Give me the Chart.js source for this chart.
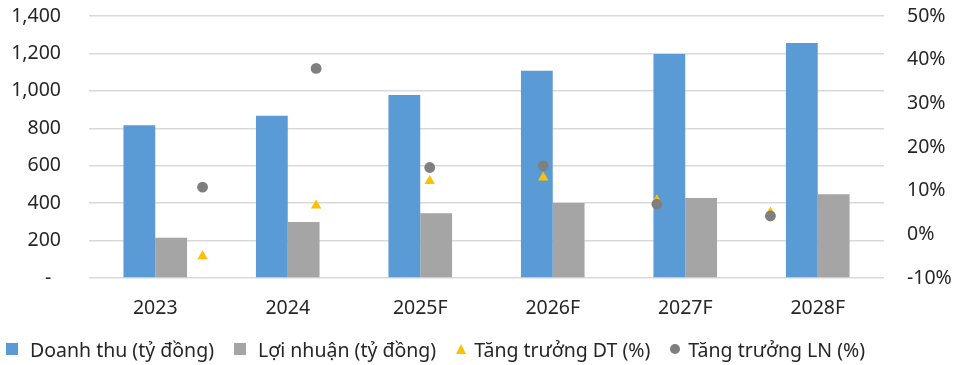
<!DOCTYPE html>
<html>
<head>
<meta charset="utf-8">
<script src="https://cdn.jsdelivr.net/npm/chart.js@4.4.1/dist/chart.umd.min.js"></script>
<style>
  html, body { margin: 0; padding: 0; background: #fff; }
  #wrap { position: relative; width: 964px; height: 365px; }
  #wrap canvas { position: absolute; left: 0; top: 0; }
  #legend {
    position: absolute; left: 6px; top: 337px; height: 24px;
    display: flex; align-items: center;
    font-family: 'Noto Sans', sans-serif; font-size: 19.5px; color: #262626;
    white-space: nowrap;
  }
  .item { display: flex; align-items: center; margin-right: 20px; }
  .mk { display: inline-block; margin-right: 12px; }
  .sq { width: 12px; height: 12px; }
  .tri { width: 0; height: 0; border-left: 5.5px solid transparent; border-right: 5.5px solid transparent; border-bottom: 10px solid; margin-right: 8px; }
  .dot { width: 10px; height: 10px; border-radius: 50%; margin-right: 8px; }
</style>
</head>
<body>
<div id="wrap">
  <canvas id="bars" width="964" height="365"></canvas>
  <canvas id="points" width="964" height="365"></canvas>
  <div id="legend"></div>
</div>
<script>
// Données
const years = ['2023', '2024', '2025F', '2026F', '2027F', '2028F'];
const revenue = [816, 867, 978, 1108, 1197, 1256];      // Doanh thu (tỷ đồng)
const profit = [215, 299, 346, 401, 427, 447];          // Lợi nhuận (tỷ đồng)
const growthDT = [-5.0, 6.6, 12.2, 13.0, 7.8, 5.0];     // Tăng trưởng DT (%)
const growthLN = [10.8, 38.0, 15.3, 15.7, 6.9, 4.2];    // Tăng trưởng LN (%)
const leftTicks = [0, 200, 400, 600, 800, 1000, 1200, 1400];
const rightTicks = [-10, 0, 10, 20, 30, 40, 50];

const FONT = "'Noto Sans', sans-serif";
const TEXT = '#262626';
const BLUE = '#5B9BD5', GREY = '#A5A5A5', GOLD = '#FFC000', DARK = '#7F7F7F';

// Zone de tracé commune aux deux graphiques superposés
const AREA = { left: 89, right: 80, top: 16, bottom: 87 };

// Graphique 1 : barres et axes
const barChart = new Chart(document.getElementById('bars'), {
    type: 'bar',
    data: {
        labels: years,
        datasets: [
            {
                label: 'Doanh thu (tỷ đồng)',
                data: revenue,
                backgroundColor: BLUE,
                categoryPercentage: 0.48,
                barPercentage: 1.0
            },
            {
                label: 'Lợi nhuận (tỷ đồng)',
                data: profit,
                backgroundColor: GREY,
                categoryPercentage: 0.48,
                barPercentage: 1.0
            }
        ]
    },
    options: {
        responsive: false,
        animation: false,
        layout: { padding: { top: AREA.top, left: 0, right: 0, bottom: 44 } },
        plugins: {
            legend: { display: false },
            tooltip: { enabled: false }
        },
        scales: {
            x: {
                type: 'category',
                afterFit: axis => { axis.height = 43; },
                grid: { display: false, drawTicks: false },
                border: { display: false },
                ticks: { color: TEXT, font: { family: FONT, size: 19.5 }, padding: 19, maxRotation: 0 }
            },
            y: {
                position: 'left',
                min: 0,
                max: 1400,
                afterBuildTicks: axis => { axis.ticks = leftTicks.map(v => ({ value: v })); },
                afterFit: axis => { axis.width = AREA.left; },
                // marque de graduation invisible pour décaler les libellés sans ajouter de marge en haut
                grid: { color: '#D9D9D9', lineWidth: 1.5, drawTicks: true, tickLength: 28, tickColor: 'rgba(0,0,0,0)' },
                border: { display: false },
                ticks: {
                    color: TEXT,
                    padding: 0,
                    font: { family: FONT, size: 19.5 },
                    callback: v => v === 0 ? '-\u2002' : v.toLocaleString('en-US')
                }
            },
            y2: {
                position: 'right',
                min: -10,
                max: 50,
                afterBuildTicks: axis => { axis.ticks = rightTicks.map(v => ({ value: v })); },
                afterFit: axis => { axis.width = AREA.right; },
                grid: { drawOnChartArea: false, drawTicks: true, tickLength: 23, color: 'rgba(0,0,0,0)', tickColor: 'rgba(0,0,0,0)' },
                border: { display: false },
                ticks: {
                    color: TEXT,
                    padding: 0,
                    font: { family: FONT, size: 19.5 },
                    callback: v => v + '%'
                }
            }
        }
    }
});

// Graphique 2 (superposé) : taux de croissance, sur un axe secondaire à 7 intervalles comme dans Excel
const toPoints = arr => arr.map((v, i) => ({ x: i + 1, y: v }));

const pointChart = new Chart(document.getElementById('points'), {
    type: 'scatter',
    data: {
        datasets: [
            {
                label: 'Tăng trưởng DT (%)',
                data: toPoints(growthDT),
                pointStyle: 'triangle',
                pointRadius: 6,
                borderWidth: 0,
                backgroundColor: GOLD,
                borderColor: GOLD,
                order: 1
            },
            {
                label: 'Tăng trưởng LN (%)',
                data: toPoints(growthLN),
                pointStyle: 'circle',
                pointRadius: 5.4,
                borderWidth: 0,
                backgroundColor: DARK,
                borderColor: DARK,
                order: 0
            }
        ]
    },
    options: {
        responsive: false,
        animation: false,
        layout: { padding: AREA },
        plugins: {
            legend: { display: false },
            tooltip: { enabled: false }
        },
        scales: {
            x: { type: 'linear', display: false, min: 0, max: 7 },
            y: { type: 'linear', display: false, min: -10, max: 50 }
        }
    }
});

// Légende en HTML, construite à partir des jeux de données
const legendSets = [...barChart.data.datasets, ...pointChart.data.datasets];
const markerClass = ['sq', 'sq', 'tri', 'dot'];
const legend = document.getElementById('legend');
legendSets.forEach((ds, i) => {
    const item = document.createElement('span');
    item.className = 'item';
    const mk = document.createElement('span');
    mk.className = 'mk ' + markerClass[i];
    if (markerClass[i] === 'tri') mk.style.borderBottomColor = ds.backgroundColor;
    else mk.style.background = ds.backgroundColor;
    const txt = document.createElement('span');
    txt.textContent = ds.label;
    item.appendChild(mk);
    item.appendChild(txt);
    legend.appendChild(item);
});
</script>
</body>
</html>
